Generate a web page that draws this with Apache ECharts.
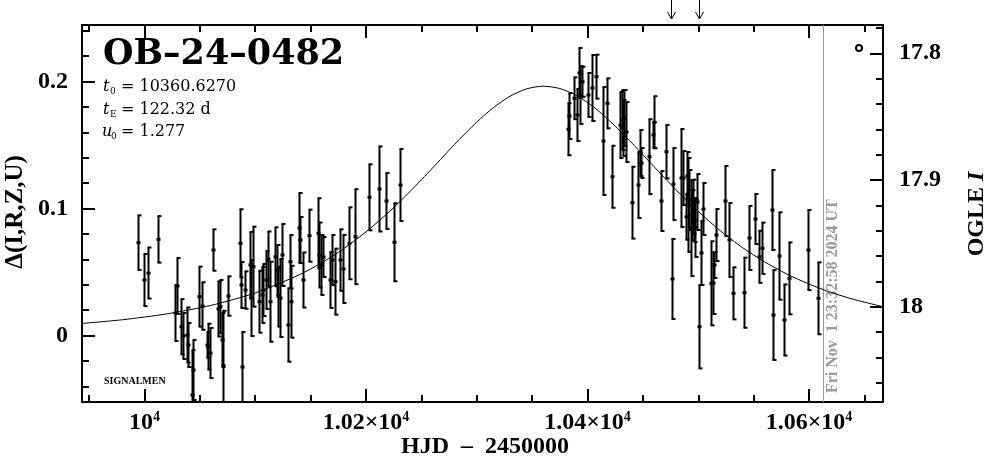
<!DOCTYPE html>
<html>
<head>
<meta charset="utf-8">
<script src="https://cdn.jsdelivr.net/npm/echarts@6/dist/echarts.min.js"></script>
<style>html,body{margin:0;padding:0;background:#fff}#c{width:986px;height:459px}</style>
</head>
<body>
<div id="c"></div>
<script>
// ---- data ----
const obsT = [9993.9,9999.8,10003.4,10012.5,10027.5,10029.6,10033.0,10035.0,10038.1,10039.5,10042.6,10043.8,10049.2,10052.2,10056.2,10057.6,10059.1,10062.1,10066.1,10068.2,10069.7,10071.2,10075.7,10086.2,10087.1,10088.0,10090.7,10095.3,10096.6,10098.2,10103.4,10105.8,10107.4,10109.4,10111.8,10113.3,10117.8,10119.6,10120.8,10122.3,10123.9,10129.8,10131.4,10132.3,10139.8,10140.7,10143.4,10148.5,10156.4,10157.8,10159.4,10160.9,10167.5,10169.6,10172.0,10176.5,10179.0,10184.9,10190.1,10203.0,10212.0,10218.1,10225.6,10230.7,10382.1,10383.6,10388.1,10390.2,10392.3,10393.2,10394.8,10400.7,10403.8,10407.4,10414.3,10417.9,10422.4,10429.3,10430.7,10432.1,10433.4,10434.8,10439.9,10445.9,10447.4,10448.3,10455.5,10458.9,10460.3,10466.4,10470.6,10476.0,10477.5,10484.4,10486.5,10488.7,10491.0,10489.6,10491.6,10493.5,10494.8,10495.5,10496.6,10497.0,10498.6,10501.0,10502.5,10504.0,10511.5,10513.6,10514.5,10516.0,10524.2,10528.0,10531.7,10541.0,10546.1,10551.5,10554.9,10557.8,10566.3,10567.8,10572.9,10577.4,10582.0,10599.4,10608.4];
const obsDelta = [0.0731,0.0437,0.0492,0.0757,0.0177,0.0390,0.0069,-0.0004,0.0004,-0.0075,-0.0469,-0.0272,0.0306,0.0232,-0.0075,-0.0088,-0.0138,0.0673,0.0209,0.0227,-0.0035,-0.0238,0.0311,0.0726,0.0398,-0.0248,0.0358,0.0555,0.0295,0.0542,0.0266,0.0319,0.0358,0.0437,0.0602,0.0266,0.0620,0.0516,0.0306,0.0295,0.0634,0.0083,0.0581,0.0266,0.0846,0.0752,0.0437,0.0786,0.0805,0.0634,0.0555,0.0618,0.0437,0.0594,0.0424,0.0594,0.0524,0.0726,0.0778,0.1088,0.1154,0.1059,0.0734,0.1185,0.1624,0.1728,0.1868,0.1736,0.2067,0.1894,0.1998,0.1894,0.1949,0.2038,0.1531,0.1828,0.1250,0.1657,0.1697,0.1634,0.1713,0.1602,0.1046,0.1185,0.1437,0.1358,0.1408,0.1579,0.1679,0.1059,0.1447,0.0445,0.1193,0.1240,0.1240,0.0935,0.1028,0.1256,0.1067,0.0846,0.0947,0.1014,0.0909,0.0846,0.1051,0.0069,0.0650,0.0996,0.0411,0.0413,0.0555,0.0791,0.1059,0.0752,0.0332,0.0337,0.0768,0.0917,0.0620,0.0687,0.0988,0.0161,0.0626,0.0122,0.0450,0.0673,0.0293];
const obsErr = [0.0215,0.0205,0.0201,0.0183,0.0220,0.0220,0.0217,0.0181,0.0217,0.0173,0.0354,0.0236,0.0236,0.0187,0.0102,0.0181,0.0197,0.0163,0.0217,0.0210,0.0213,0.0433,0.0155,0.0268,0.0181,0.0276,0.0147,0.0260,0.0299,0.0315,0.0244,0.0220,0.0205,0.0228,0.0217,0.0315,0.0232,0.0197,0.0236,0.0307,0.0244,0.0289,0.0210,0.0283,0.0276,0.0181,0.0217,0.0205,0.0276,0.0256,0.0236,0.0157,0.0220,0.0197,0.0260,0.0242,0.0268,0.0283,0.0374,0.0260,0.0335,0.0220,0.0307,0.0283,0.0205,0.0181,0.0165,0.0205,0.0197,0.0228,0.0118,0.0173,0.0260,0.0173,0.0425,0.0197,0.0244,0.0260,0.0236,0.0220,0.0220,0.0236,0.0283,0.0260,0.0181,0.0118,0.0295,0.0102,0.0205,0.0236,0.0210,0.0315,0.0283,0.0386,0.0213,0.0181,0.0370,0.0189,0.0236,0.0378,0.0197,0.0213,0.0173,0.0228,0.0220,0.0328,0.0252,0.0205,0.0331,0.0244,0.0102,0.0205,0.0276,0.0291,0.0205,0.0276,0.0252,0.0197,0.0205,0.0202,0.0315,0.0354,0.0344,0.0280,0.0283,0.0315,0.0283];

const modelT = [9940,9980,10020,10060,10100,10140,10160,10180,10200,10220,10240,10260,10280,10300,10315,10330,10345,10360,10375,10390,10405,10420,10440,10460,10480,10500,10520,10540,10560,10580,10600,10620,10640,10670];
const modelDelta = [0.0092,0.0124,0.0170,0.0237,0.0335,0.0479,0.0573,0.0684,0.0816,0.0966,0.1136,0.1318,0.1505,0.1680,0.1794,0.1884,0.1942,0.1963,0.1945,0.1890,0.1803,0.1690,0.1516,0.1330,0.1147,0.0977,0.0824,0.0692,0.0579,0.0484,0.0405,0.0339,0.0285,0.0220];

const arrowT = [10475.4, 10500.7];
const nowT = 10612.6;
const nowLabel = 'Fri Nov  1 23:32:58 2024 UT';

const xMajorTicks = [10000, 10200, 10400, 10600];
const xMinorTicks = [9950,10050,10100,10150,10250,10300,10350,10450,10500,10550,10650];
const leftMajorTicks = [0, 0.1, 0.2];
const leftMinorTicks = [-0.04,-0.02,0.02,0.04,0.06,0.08,0.12,0.14,0.16,0.18,0.22,0.24];
const rightMajorTicks = [17.8, 17.9, 18.0];
const rightMinorTicks = [17.78,17.82,17.84,17.86,17.88,17.92,17.94,17.96,17.98,18.02,18.04,18.06];

// ---- chart ----
const X_MIN = 9943.6, X_MAX = 10666.8;
const L_MIN = -0.05236, L_MAX = 0.24449;
const R_MIN = 17.7777, R_MAX = 18.0752;
const SERIF = 'Liberation Serif';

const chart = echarts.init(document.getElementById('c'), null, {renderer: 'canvas'});

const tickStyle = {color: '#000', width: 2};
function xAxisDef(pos, major, showLine) {
  return {
    type: 'value', position: pos, min: X_MIN, max: X_MAX,
    axisLine: {show: showLine, onZero: false, lineStyle: {color: '#000', width: 2}},
    axisTick: {show: true, inside: true, length: major ? 13 : 7, lineStyle: tickStyle,
               customValues: major ? xMajorTicks : xMinorTicks},
    axisLabel: (pos === 'bottom' && major) ? {
      show: true, customValues: xMajorTicks, margin: 8,
      fontFamily: SERIF, fontSize: 24, fontWeight: 'bold', color: '#000',
      formatter: function (v) {
        if (Math.abs(v - 10000) < 1e-6) return '{a|10}{s|4}';
        return '{a|' + (v / 1e4).toFixed(2) + '×10}{s|4}';
      },
      rich: {
        a: {fontFamily: SERIF, fontSize: 24, fontWeight: 'bold', color: '#000', lineHeight: 26},
        s: {fontFamily: SERIF, fontSize: 14, fontWeight: 'bold', color: '#000', verticalAlign: 'top', lineHeight: 26, padding: [0, 0, 10, 0]}
      }
    } : {show: false},
    splitLine: {show: false}
  };
}
function yAxisDef(pos, major, left) {
  const majorT = left ? leftMajorTicks : rightMajorTicks;
  const minorT = left ? leftMinorTicks : rightMinorTicks;
  return {
    type: 'value', position: pos,
    min: left ? L_MIN : R_MIN, max: left ? L_MAX : R_MAX, inverse: !left,
    axisLine: {show: major, onZero: false, lineStyle: {color: '#000', width: 2}},
    axisTick: {show: true, inside: true, length: major ? 13 : 7, lineStyle: tickStyle,
               customValues: major ? majorT : minorT},
    axisLabel: major ? {
      show: true, customValues: majorT, margin: left ? 14 : 16,
      fontFamily: SERIF, fontSize: 24, fontWeight: 'bold', color: '#000',
      formatter: function (v) {
        if (left) return Math.abs(v) < 1e-9 ? '0' : v.toFixed(1);
        return Math.abs(v - 18) < 1e-9 ? '18' : v.toFixed(1);
      }
    } : {show: false},
    splitLine: {show: false}
  };
}

const errData = obsT.map((t, i) => [t, obsDelta[i], obsErr[i]]);

const option = {
  animation: false,
  backgroundColor: '#fff',
  grid: {left: 82, right: 103, top: 25, bottom: 57, containLabel: false, outerBoundsMode: 'none'},
  xAxis: [xAxisDef('bottom', true, true), xAxisDef('bottom', false, false),
          xAxisDef('top', true, true), xAxisDef('top', false, false)],
  yAxis: [yAxisDef('left', true, true), yAxisDef('left', false, true),
          yAxisDef('right', true, false), yAxisDef('right', false, false)],
  series: [
    {
      type: 'line', xAxisIndex: 0, yAxisIndex: 0,
      data: modelT.map((t, i) => [t, modelDelta[i]]),
      smooth: 0.25, showSymbol: false, symbol: 'none',
      lineStyle: {color: '#000', width: 1}, z: 2, silent: true
    },
    {
      type: 'custom', xAxisIndex: 0, yAxisIndex: 0, z: 3, silent: true,
      data: errData,
      renderItem: function (params, api) {
        const cs = params.coordSys;
        const top = cs.y, bot = cs.y + cs.height;
        const t = api.value(0), v = api.value(1), e = api.value(2);
        const c = api.coord([t, v]);
        const a = api.coord([t, v + e]);
        const b = api.coord([t, v - e]);
        const x = Math.round(c[0]) + 0.5;
        const y1 = Math.max(a[1], top), y2 = Math.min(b[1], bot);
        const ch = [];
        ch.push({type: 'line', shape: {x1: x, y1: y1, x2: x, y2: y2}, style: {stroke: '#000', lineWidth: 2}});
        if (a[1] >= top) ch.push({type: 'line', shape: {x1: x - 1, y1: a[1], x2: x + 3, y2: a[1]}, style: {stroke: '#000', lineWidth: 2}});
        if (b[1] <= bot) ch.push({type: 'line', shape: {x1: x - 1, y1: b[1], x2: x + 3, y2: b[1]}, style: {stroke: '#000', lineWidth: 2}});
        if (c[1] >= top && c[1] <= bot) ch.push({type: 'rect', shape: {x: x - 2, y: c[1] - 1.5, width: 4, height: 3}, style: {fill: '#000'}});
        return {type: 'group', children: ch};
      }
    },
    {
      type: 'custom', xAxisIndex: 0, yAxisIndex: 0, z: 4, silent: true, clip: false,
      data: arrowT.map(t => [t, L_MAX]),
      renderItem: function (params, api) {
        const cs = params.coordSys;
        const x = Math.round(api.coord([api.value(0), api.value(1)])[0]) + 0.5;
        const y0 = cs.y - 25, y1 = cs.y - 6;
        const st = {stroke: '#000', lineWidth: 1};
        return {type: 'group', children: [
          {type: 'line', shape: {x1: x, y1: y0, x2: x, y2: y1}, style: st},
          {type: 'polyline', shape: {points: [[x - 4, y1 - 7], [x, y1], [x + 4, y1 - 7]]}, style: Object.assign({fill: null}, st)}
        ]};
      }
    },
    {
      type: 'custom', xAxisIndex: 0, yAxisIndex: 0, z: 1, silent: true, clip: false,
      data: [[nowT, 0]],
      renderItem: function (params, api) {
        const cs = params.coordSys;
        const x = Math.round(api.coord([api.value(0), api.value(1)])[0]) + 0.5;
        return {type: 'group', children: [
          {type: 'line', shape: {x1: x, y1: cs.y, x2: x, y2: cs.y + cs.height}, style: {stroke: '#999', lineWidth: 1}},
          {type: 'text', x: x + 9, y: cs.y + cs.height - 9, rotation: Math.PI / 2,
           style: {text: nowLabel, fill: '#999', font: 'bold 16px "Liberation Serif"', align: 'left', verticalAlign: 'middle'}}
        ]};
      }
    }
  ],
  graphic: [
    {type: 'text', x: 103, y: 55, style: {text: 'OB–24–0482', fill: '#000', font: 'bold 35px "DejaVu Serif"', align: 'left', verticalAlign: 'middle'}},
    {type: 'text', x: 103, y: 87, style: {text: 't', fill: '#000', font: 'italic 16px "DejaVu Serif"', align: 'left', verticalAlign: 'middle'}},
    {type: 'text', x: 110, y: 92, style: {text: '0', fill: '#000', font: '9px "DejaVu Serif"', align: 'left', verticalAlign: 'middle'}},
    {type: 'text', x: 121, y: 87, style: {text: '= 10360.6270', fill: '#000', font: '16px "DejaVu Serif"', align: 'left', verticalAlign: 'middle'}},
    {type: 'text', x: 103, y: 110, style: {text: 't', fill: '#000', font: 'italic 16px "DejaVu Serif"', align: 'left', verticalAlign: 'middle'}},
    {type: 'text', x: 110, y: 115, style: {text: 'E', fill: '#000', font: '9px "DejaVu Serif"', align: 'left', verticalAlign: 'middle'}},
    {type: 'text', x: 121, y: 110, style: {text: '= 122.32 d', fill: '#000', font: '16px "DejaVu Serif"', align: 'left', verticalAlign: 'middle'}},
    {type: 'text', x: 102, y: 132, style: {text: 'u', fill: '#000', font: 'italic 16px "DejaVu Serif"', align: 'left', verticalAlign: 'middle'}},
    {type: 'text', x: 111, y: 137, style: {text: '0', fill: '#000', font: '9px "DejaVu Serif"', align: 'left', verticalAlign: 'middle'}},
    {type: 'text', x: 121, y: 132, style: {text: '= 1.277', fill: '#000', font: '16px "DejaVu Serif"', align: 'left', verticalAlign: 'middle'}},
    {type: 'text', x: 104, y: 381, style: {text: 'SIGNALMEN', fill: '#000', font: 'bold 10px "Liberation Serif"', align: 'left', verticalAlign: 'middle'}},
    {type: 'circle', shape: {cx: 859, cy: 48, r: 3}, style: {fill: null, stroke: '#000', lineWidth: 2}},
    {type: 'text', x: 16, y: 212, rotation: Math.PI / 2, style: {text: 'Δ(I,R,Z,U)', fill: '#000', font: 'bold 25px "Liberation Serif"', align: 'center', verticalAlign: 'middle'}},
    {type: 'text', x: 977, y: 214, rotation: Math.PI / 2,
     style: {text: '{a|OGLE }{b|I}', align: 'center', verticalAlign: 'middle',
             rich: {a: {fill: '#000', font: 'bold 24px "Liberation Serif"'}, b: {fill: '#000', font: 'bold italic 24px "Liberation Serif"'}}}},
    {type: 'text', x: 485, y: 447, style: {text: 'HJD  –  2450000', fill: '#000', font: 'bold 24px "Liberation Serif"', align: 'center', verticalAlign: 'middle'}}
  ]
};
chart.setOption(option);
</script>
</body>
</html>
